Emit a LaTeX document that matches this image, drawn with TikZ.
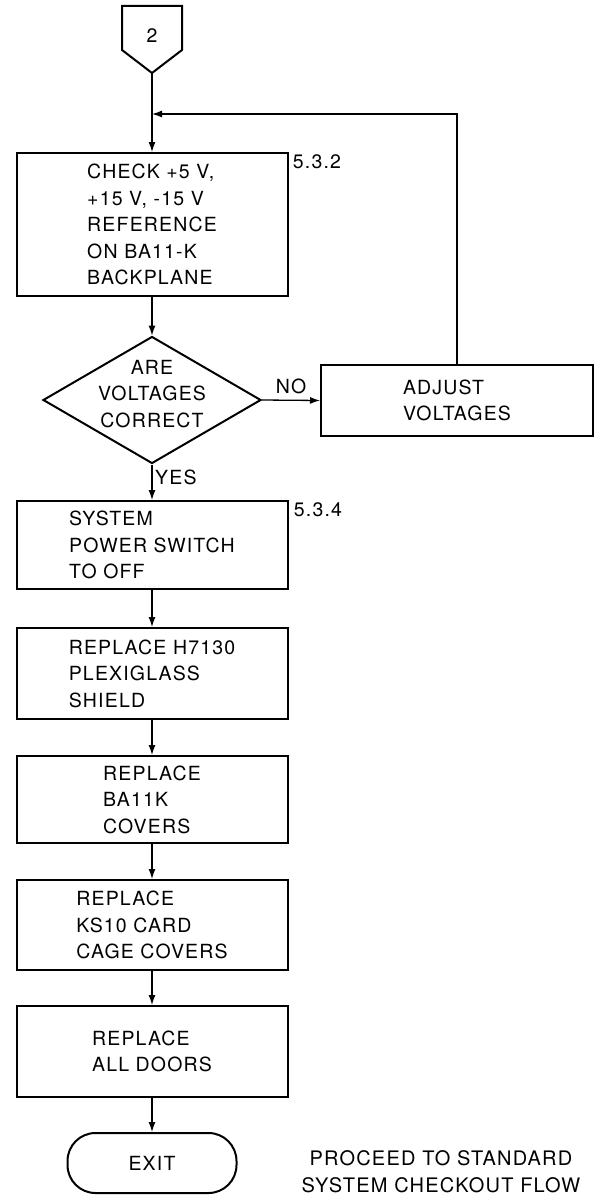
\documentclass[tikz,border=0pt]{standalone}
\usepackage{fontspec}
\setmainfont{TeX Gyre Heros}[LetterSpace=6.0]
\usetikzlibrary{shapes.geometric,arrows.meta}
\begin{document}
\begin{tikzpicture}[x=1pt,y=-1pt,
  every node/.style={font=\fontsize{19.5}{26.5}\selectfont},
  box/.style={draw, line width=2pt, minimum width=271pt, inner sep=0pt, align=left},
  dec/.style={draw, diamond, line width=2pt, inner sep=0pt,
    minimum width=218pt, minimum height=127pt},
  term/.style={draw, line width=2pt, rounded corners=28pt, minimum width=169pt, minimum height=60pt},
  conn/.style={line width=1.3pt, -{Latex[length=10pt,width=7pt]}},
  lbl/.style={inner sep=0pt}]
\useasboundingbox (0,0) rectangle (596,1204);

% off-page connector
\draw[line width=2pt, line join=miter] (122,6) -- (182,6) -- (182,50) -- (152,73) -- (122,50) -- cycle;
\node[lbl] (c2) at (152,36) {2};
\coordinate (c2b) at (152,73);
\coordinate (j) at (152,114);

\node[box, minimum height=143pt] (b1) at (152,224.5) {CHECK +5 V,\\+15 V, -15 V\\REFERENCE\\ON BA11-K\\BACKPLANE};
\node[lbl] (r1) at (317,162) {5.3.2};

\node[dec] (dia) at (152,400) {};
\node[lbl, align=center] (diat) at ([yshift=6pt]dia.center) {ARE\\VOLTAGES\\CORRECT};
\node[box, minimum width=272pt, minimum height=71pt] (adj) at (457,400.5) {ADJUST\\VOLTAGES};

\node[box, minimum height=88pt] (b2) at (152,545) {SYSTEM\\POWER SWITCH\\TO OFF};
\node[lbl] (r2) at (318,510) {5.3.4};
\node[box, minimum height=91pt] (b3) at (152,673.5) {REPLACE H7130\\PLEXIGLASS\\SHIELD};
\node[box, minimum height=87pt] (b4) at (152,799.5) {REPLACE\\BA11K\\COVERS};
\node[box, minimum height=90pt] (b5) at (152,925) {REPLACE\\KS10 CARD\\CAGE COVERS};
\node[box, minimum height=91pt] (b6) at (152,1051.5) {REPLACE\\ALL DOORS};
\node[term] (exit) at (152,1163) {EXIT};
\node[lbl, align=center, font=\fontsize{20}{27}\selectfont] (note) at (441,1172) {PROCEED TO STANDARD\\SYSTEM CHECKOUT FLOW};

\draw[conn] (c2b) -- (b1.north);
\draw[conn] (adj.north) |- (j);
\draw[conn] (b1.south) -- (dia.north);
\draw[conn] (dia.east) -- node[lbl, above, yshift=6pt] (no) {NO} (adj.west);
\draw[conn] (dia.south) -- (b2.north);
\node[lbl, anchor=west] (yes) at (155,477) {YES};
\draw[conn] (b2.south) -- (b3.north);
\draw[conn] (b3.south) -- (b4.north);
\draw[conn] (b4.south) -- (b5.north);
\draw[conn] (b5.south) -- (b6.north);
\draw[conn] (b6.south) -- (exit.north);
\end{tikzpicture}
\end{document}
